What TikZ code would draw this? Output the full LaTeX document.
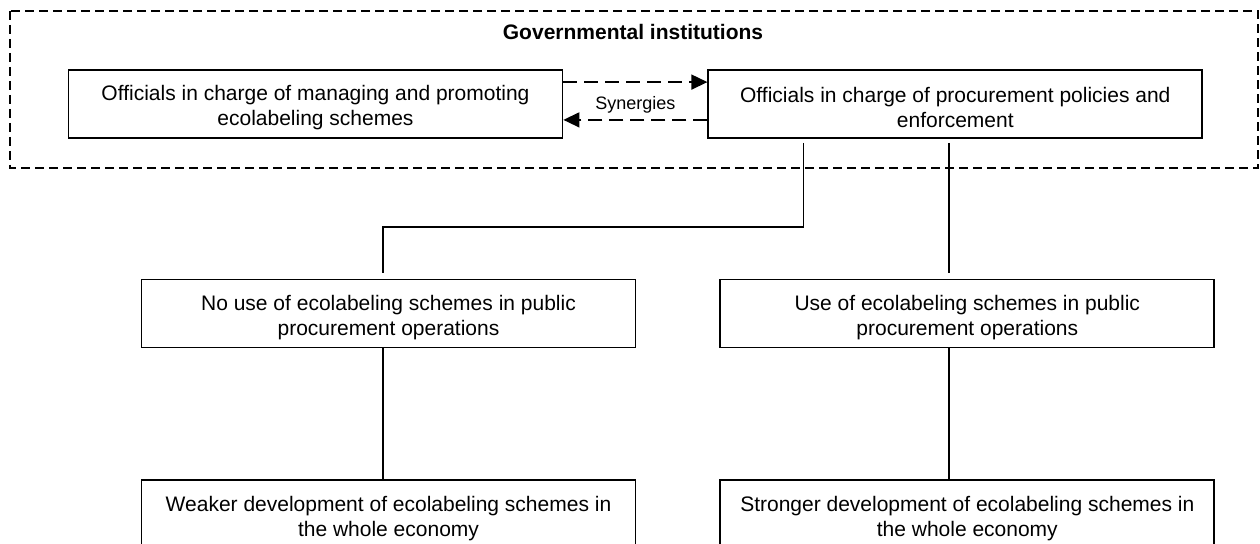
\documentclass[tikz,border=0pt]{standalone}
\usepackage{fontspec}
\setmainfont{Liberation Sans}
\usepackage{tikz}
\usetikzlibrary{arrows.meta,positioning,calc}
\tikzset{
    box/.style={draw, line width=0.9pt, rectangle, minimum width=247pt, minimum height=34pt, text width=232pt, text height=11.5pt, align=flush center, inner sep=0pt, font=\fontsize{10.5}{12.5}\selectfont},
    link/.style={line width=0.75pt, black},
    synergy/.style={-{Triangle[length=8pt, width=7.5pt]}, line width=0.75pt, dash pattern=on 7pt off 3.5pt},
    frame/.style={line width=0.7pt, dash pattern=on 4.5pt off 2.5pt}
}

\begin{document}
\begin{tikzpicture}[node distance=41.5pt]
\useasboundingbox (0,0) rectangle (630pt,-272pt);

% governmental frame
\draw[frame] (5pt,-5.5pt) rectangle (629pt,-84pt);
\node[font=\fontsize{10.5}{12.5}\selectfont\bfseries] (GI) at (316.5pt,-16pt) {Governmental institutions};

\node[box] (EO) at (157.75pt,-52pt) {Officials in charge of managing and promoting ecolabeling schemes};
\node[box, right=72pt of EO] (PO) {Officials in charge of procurement policies and enforcement};

\node[box] (NU) at (194.25pt,-156.75pt) {No use of ecolabeling schemes in public procurement operations};
\node[box, right=of NU] (U) {Use of ecolabeling schemes in public procurement operations};
\node[box, below=65.5pt of NU] (W) {Weaker development of ecolabeling schemes in the whole economy};
\node[box, below=65.5pt of U] (S) {Stronger development of ecolabeling schemes in the whole economy};

\draw[synergy] ([yshift=-6.5pt]EO.north east) -- ([yshift=-6.5pt]PO.north west);
\draw[synergy] ([yshift=9.5pt]PO.south west) -- ([yshift=9.5pt]EO.south east)
    node[midway, above=-0.5pt, font=\fontsize{9}{11}\selectfont] {Synergies};

\draw[link] ([xshift=48pt, yshift=-2pt]PO.south west) -- ++(0,-42pt) -| ([xshift=-2.75pt, yshift=3pt]NU.north);
\draw[link] ([xshift=-3.25pt, yshift=-2pt]PO.south) -- ($(PO.south |- U.north)+(-3.25pt,3pt)$);
\draw[link] ([xshift=-2.75pt]NU.south) -- ([xshift=-2.75pt]W.north);
\draw[link] ([xshift=-9.25pt]U.south) -- ([xshift=-9.25pt]S.north);
\end{tikzpicture}
\end{document}
